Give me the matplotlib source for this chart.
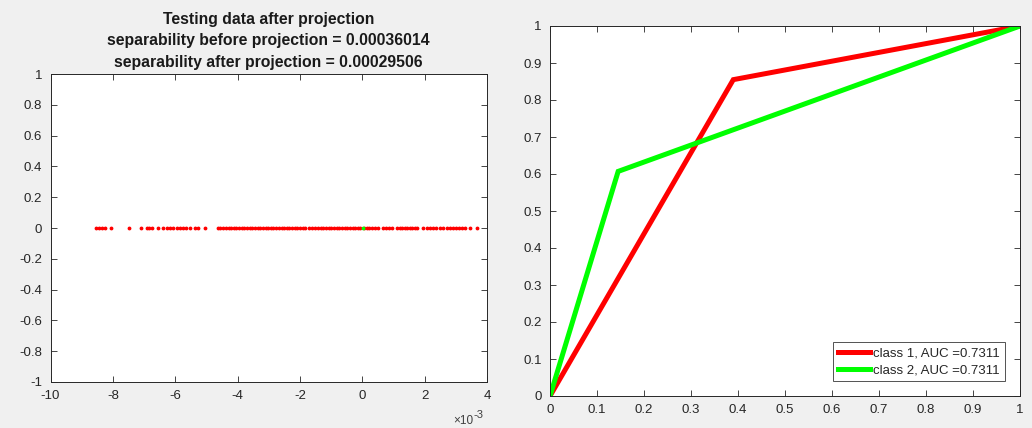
import matplotlib
matplotlib.use("Agg")
import matplotlib.pyplot as plt
import numpy as np

plt.rcParams['font.family'] = ['Liberation Sans', 'DejaVu Sans']
plt.rcParams['axes.unicode_minus'] = False

# Projected test samples (units of 1e-3)
proj_class1 = [
    -8.54, -8.44, -8.34, -8.24, -8.06, -7.48, -7.10, -6.92, -6.84, -6.74,
    -6.56, -6.40, -6.26, -6.16, -6.07, -5.95, -5.85, -5.74, -5.64, -5.53,
    -5.37, -5.27, -5.05,
    -4.63, -4.55, -4.46, -4.38, -4.29, -4.21, -4.12, -4.04, -3.95, -3.87,
    -3.78, -3.70, -3.61, -3.53, -3.44, -3.36, -3.27, -3.19, -3.10, -3.02,
    -2.93, -2.85, -2.76, -2.68, -2.59, -2.51, -2.42, -2.34, -2.25, -2.17,
    -2.08, -2.00, -1.91, -1.83, -1.70, -1.60, -1.52, -1.43, -1.33, -1.25,
    -1.16, -1.08, -0.99, -0.91, -0.82, -0.74, -0.65, -0.57, -0.48, -0.40,
    -0.31, -0.23, -0.14, -0.06, 0.06, 0.14, 0.22, 0.31, 0.40, 0.50,
    0.66, 0.75, 0.85, 0.95, 1.11, 1.20, 1.27, 1.36, 1.45, 1.52, 1.59,
    1.68, 1.75, 1.94, 2.07, 2.16, 2.26, 2.36, 2.48, 2.58, 2.71, 2.80,
    2.91, 3.00, 3.10, 3.20, 3.30, 3.45, 3.67,
]
proj_class2 = [0.02]

# ROC curves
fpr1 = [0.0, 0.39, 1.0]
tpr1 = [0.0, 0.855, 1.0]
fpr2 = [0.0, 0.145, 1.0]
tpr2 = [0.0, 0.607, 1.0]
roc_labels = ['class 1, AUC =0.7311', 'class 2, AUC =0.7311']

title_lines = ['Testing data after projection',
               'separability before projection = 0.00036014',
               'separability after projection = 0.00029506']

BG = '#f0f0f0'
AX = '#262626'
W, H = 1032, 428


def fmt(v):
    v = round(float(v), 1)
    if v == 0:
        v = 0.0
    return f'{v:g}'


fig = plt.figure(figsize=(W / 100, H / 100), dpi=100, facecolor=BG)


def style_axes(ax):
    ax.set_facecolor('white')
    for s in ax.spines.values():
        s.set_color(AX)
        s.set_linewidth(0.7)
    ax.tick_params(direction='in', length=4, width=0.6, color=AX,
                   top=True, right=True, labelsize=9.5, labelcolor=AX, pad=6)


# Left panel: projected samples on a line
ax1 = fig.add_axes([50.5 / W, 1 - 382 / H, (487 - 50.5) / W, (382 - 74) / H])
style_axes(ax1)
ax1.plot(proj_class1, np.zeros(len(proj_class1)), linestyle='none', marker='.',
         color='#ff0000', markersize=3.5)
ax1.plot(proj_class2, np.zeros(len(proj_class2)), linestyle='none', marker='.',
         color='#00ff00', markersize=3.5)
ax1.set_xlim(-10, 4)
ax1.set_ylim(-1, 1)
xt = np.arange(-10, 5, 2)
ax1.set_xticks(xt)
ax1.set_xticklabels([fmt(v) for v in xt])
yt = np.arange(-1, 1.01, 0.2)
ax1.set_yticks(yt)
ax1.set_yticklabels([fmt(v) for v in yt])
ax1.set_title('\n'.join(title_lines), fontsize=11.3, fontweight='bold',
              color='#1a1a1a', linespacing=1.56, pad=5)
# axis exponent
ax1.text(0.922, -0.135, '\u00d710', transform=ax1.transAxes,
         ha='left', va='baseline', fontsize=8.5, color='#404040')
ax1.text(0.968, -0.116, '-3', transform=ax1.transAxes,
         ha='left', va='baseline', fontsize=8, color='#404040')

# Right panel: ROC curves
ax2 = fig.add_axes([550 / W, 1 - 396 / H, (1020 - 550) / W, (396 - 26) / H])
style_axes(ax2)
ax2.plot(fpr1, tpr1, color='#ff0000', linewidth=3.6, label=roc_labels[0],
         solid_joinstyle='miter')
ax2.plot(fpr2, tpr2, color='#00ff00', linewidth=3.6, label=roc_labels[1],
         solid_joinstyle='miter')
ax2.set_xlim(0, 1)
ax2.set_ylim(0, 1)
t2 = np.arange(0, 1.01, 0.1)
ax2.set_xticks(t2)
ax2.set_xticklabels([fmt(v) for v in t2])
ax2.set_yticks(t2)
ax2.set_yticklabels([fmt(v) for v in t2])
leg = ax2.legend(loc='lower right', fontsize=9.5, frameon=True, fancybox=False,
                 handlelength=2.4, handletextpad=0.3, borderpad=0.4,
                 labelspacing=0.35, borderaxespad=1.1)
leg.get_frame().set_edgecolor('#262626')
leg.get_frame().set_linewidth(0.7)
for t in leg.get_texts():
    t.set_color(AX)

fig.savefig('out.png', dpi=100, facecolor=BG)
